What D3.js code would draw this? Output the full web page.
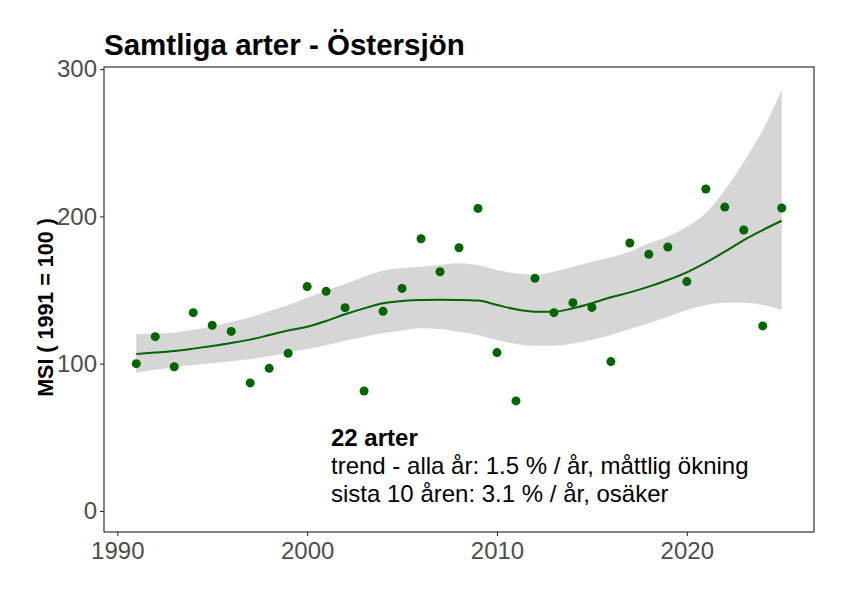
<!DOCTYPE html>
<html>
<head>
<meta charset="utf-8">
<script src="https://cdn.jsdelivr.net/npm/d3@7"></script>
<style>
  body { margin: 0; background: #fff; }
  svg { font-family: Arial, "Liberation Sans", sans-serif; }
</style>
</head>
<body>
<svg id="chart" width="848" height="594"></svg>
<script>
// index values per year
const years = d3.range(1991, 2026);
const msi = [100.0, 118.3, 97.9, 134.6, 126.0, 121.9, 86.9, 96.8, 107.0, 152.3,
  149.1, 138.0, 81.4, 135.5, 151.1, 184.8, 162.4, 178.7, 205.4, 107.5,
  74.7, 157.9, 134.6, 141.4, 138.2, 101.4, 181.9, 174.2, 179.2, 155.7,
  218.6, 206.3, 190.7, 125.6, 205.7];

// smoothed trend and its band
const fit = [106.6, 107.5, 108.6, 110.2, 112.0, 114.0, 116.3, 119.4, 122.5, 125.0,
  129.0, 133.5, 137.5, 141.0, 142.5, 143.2, 143.3, 143.2, 142.8, 139.8,
  136.9, 135.3, 135.2, 137.6, 141.0, 145.1, 148.4, 152.3, 156.8, 162.0,
  168.6, 176.0, 183.9, 190.7, 197.0];
const lower = [93.9, 95.8, 97.5, 99.0, 100.2, 101.6, 103.0, 105.0, 107.5, 110.0,
  112.5, 115.5, 118.2, 120.6, 122.5, 124.0, 123.5, 121.7, 119.5, 116.1,
  113.4, 112.2, 112.2, 113.7, 116.3, 119.5, 123.5, 127.4, 131.9, 136.4,
  139.8, 141.4, 141.4, 139.8, 136.4];
const upper = [120.1, 120.5, 121.2, 123.0, 125.3, 128.2, 131.5, 135.5, 139.8, 144.8,
  149.5, 154.0, 159.0, 163.1, 165.0, 165.8, 167.0, 168.1, 167.0, 163.6,
  161.3, 160.2, 162.4, 165.8, 169.2, 172.2, 176.0, 181.7, 186.2, 193.0,
  202.1, 217.9, 237.1, 258.6, 285.8];

const xTicks = [1990, 2000, 2010, 2020];
const yTicks = [0, 100, 200, 300];
const title = "Samtliga arter - Östersjön";
const yLabel = "MSI ( 1991 = 100 )";
const notes = ["22 arter", "trend - alla år: 1.5 % / år, måttlig ökning", "sista 10 åren: 3.1 % / år, osäker"];

const data = years.map((y, i) => ({ year: y, msi: msi[i], fit: fit[i], lo: lower[i], hi: upper[i] }));

const svg = d3.select("#chart");
const margin = { top: 67, right: 34, bottom: 62, left: 104 };
const width = 848, height = 594;

const x = d3.scaleLinear()
  .domain([1989.3, 2026.7])
  .range([margin.left, width - margin.right]);
const y = d3.scaleLinear()
  .domain([-14.3, 301.4])
  .range([height - margin.bottom, margin.top]);

const green = "#006400";

svg.append("path")
  .datum(data)
  .attr("fill", "#d6d6d6")
  .attr("d", d3.area().curve(d3.curveMonotoneX)
    .x(d => x(d.year)).y0(d => y(d.lo)).y1(d => y(d.hi)));

svg.append("g")
  .selectAll("circle")
  .data(data)
  .join("circle")
  .attr("cx", d => x(d.year))
  .attr("cy", d => y(d.msi))
  .attr("r", 4.5)
  .attr("fill", green);

svg.append("path")
  .datum(data)
  .attr("fill", "none")
  .attr("stroke", green)
  .attr("stroke-width", 2)
  .attr("d", d3.line().curve(d3.curveMonotoneX)
    .x(d => x(d.year)).y(d => y(d.fit)));

// panel border
svg.append("rect")
  .attr("x", margin.left)
  .attr("y", margin.top)
  .attr("width", width - margin.left - margin.right)
  .attr("height", height - margin.top - margin.bottom)
  .attr("fill", "none")
  .attr("stroke", "#333")
  .attr("stroke-width", 1.2);

const xAxis = svg.append("g")
  .attr("transform", `translate(0,${height - margin.bottom})`)
  .call(d3.axisBottom(x).tickValues(xTicks).tickFormat(d3.format("d")).tickSize(4).tickPadding(6));
const yAxis = svg.append("g")
  .attr("transform", `translate(${margin.left},0)`)
  .call(d3.axisLeft(y).tickValues(yTicks).tickSize(4).tickPadding(3));

[xAxis, yAxis].forEach(g => {
  g.select(".domain").remove();
  g.selectAll(".tick line").attr("stroke", "#333").attr("stroke-width", 1.1);
  g.selectAll(".tick text").attr("fill", "#4d4d4d").style("font-size", "24px")
    .style("font-family", "Arial, 'Liberation Sans', sans-serif");
});

svg.append("text")
  .attr("x", 104)
  .attr("y", 55)
  .style("font-size", "29.5px")
  .style("font-weight", "bold")
  .text(title);

svg.append("text")
  .attr("transform", `translate(53,${(margin.top + height - margin.bottom) / 2 + 8}) rotate(-90)`)
  .attr("text-anchor", "middle")
  .style("font-size", "21.5px")
  .style("font-weight", "bold")
  .text(yLabel);

svg.append("g")
  .selectAll("text")
  .data(notes)
  .join("text")
  .attr("x", 331)
  .attr("y", (d, i) => 446 + i * 28)
  .style("font-size", "24px")
  .style("font-weight", (d, i) => i === 0 ? "bold" : "normal")
  .text(d => d);
</script>
</body>
</html>
